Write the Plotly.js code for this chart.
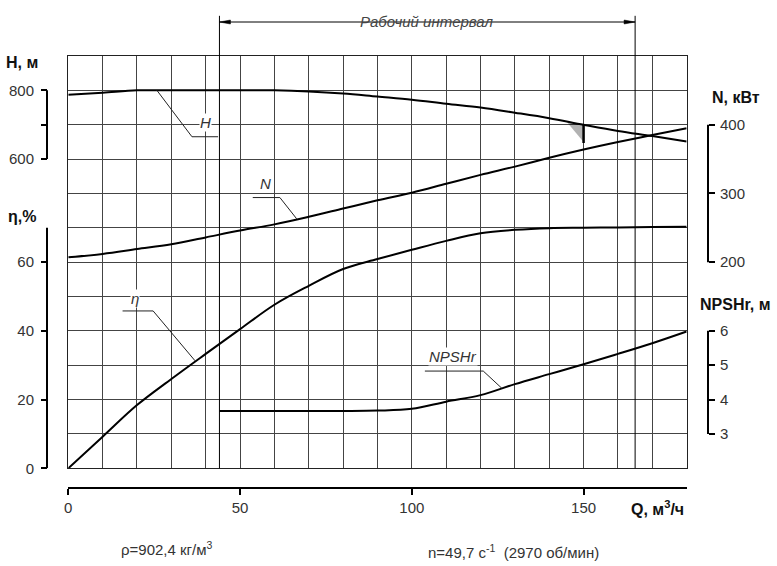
<!DOCTYPE html>
<html>
<head>
<meta charset="utf-8">
<script src="https://cdn.plot.ly/plotly-3.0.1.min.js"></script>
<style>
  html, body { margin: 0; padding: 0; background: #fff; }
  #chart { width: 777px; height: 566px; }
</style>
</head>
<body>
<div id="chart"></div>
<script>
// pump curves
const flow = [0, 10, 20, 30, 40, 50, 60, 70, 80, 90, 100, 110, 120, 130, 140, 150, 160, 170, 180];
const head = [787, 793, 800, 800, 800, 800, 800, 797, 791, 782, 773, 761, 750, 735, 719, 700, 682, 667, 651];
const power = [207, 212, 219, 226, 236, 246, 255, 266, 278, 290, 301, 314, 327, 339, 352, 364, 375, 385, 395];
const efficiency = [0, 9.2, 18.4, 26, 33.3, 40.5, 47.6, 53.1, 58, 60.9, 63.6, 66.2, 68.4, 69.4, 69.9, 70, 70.1, 70.2, 70.3];

const npshFlow = [44, 50, 60, 70, 80, 90, 100, 110, 120, 130, 140, 150, 160, 170, 180];
const npsh = [3.67, 3.67, 3.67, 3.67, 3.67, 3.68, 3.73, 3.94, 4.13, 4.45, 4.74, 5.03, 5.33, 5.64, 5.98];

const workRange = [44, 165];
const bepFlow = 150;

const qTicks = [0, 50, 100, 150];
const etaTicks = [0, 20, 40, 60];
const etaLineTop = 70;
const headTicks = [600, 800];
const headMinor = [700];
const powerTicks = [200, 300, 400];
const npshTicks = [3, 4, 5, 6];

const font = 'Liberation Sans, Arial, sans-serif';
const ink = '#333';

function curve(x, y, axis) {
  return {
    x: x,
    y: y,
    yaxis: axis,
    mode: 'lines',
    line: { color: '#000', width: 2, shape: 'spline', smoothing: 1 },
    hoverinfo: 'none',
    showlegend: false,
  };
}

const traces = [
  curve(flow, efficiency, 'y'),
  curve(flow, head, 'y2'),
  curve(flow, power, 'y3'),
  curve(npshFlow, npsh, 'y4'),
];

function sideAxis(range, ticks, side) {
  return {
    range: range,
    tickvals: ticks,
    anchor: 'free',
    position: side === 'left' ? 0 : 1,
    side: side,
    overlaying: 'y',
    showgrid: false,
    zeroline: false,
    showline: false,
    ticks: 'outside',
    ticklen: 6,
    tickwidth: 2,
    tickcolor: '#000',
    ticklabelstandoff: side === 'left' ? 4 : 2,
    tickfont: { family: font, size: 15, color: ink },
  };
}

const yEta = sideAxis([0, 120], etaTicks, 'left');
delete yEta.overlaying;
yEta.domain = [0.0456, 1];

const yHead = sideAxis([-300, 900], headTicks, 'left');
yHead.minor = { tickvals: headMinor, ticks: 'outside', ticklen: 6, tickwidth: 2, tickcolor: '#000', showgrid: false };

// short axis spines, from first to last tick
function spine(ref, x, y0, y1) {
  return {
    type: 'line', xref: 'paper', yref: ref,
    x0: x, x1: x, y0: y0, y1: y1,
    line: { color: '#000', width: 2 },
  };
}

function leader(ref, pts) {
  return {
    type: 'path', xref: 'x', yref: ref,
    path: 'M' + pts.map((p) => p[0] + ',' + p[1]).join(' L'),
    line: { color: '#222', width: 1 },
  };
}

function arrowHead(q, dir) {
  return {
    type: 'path', xref: 'x', yref: 'paper',
    xsizemode: 'pixel', ysizemode: 'pixel',
    xanchor: q, yanchor: 1.0787,
    path: 'M0,0 L' + (11 * dir) + ',2 L' + (11 * dir) + ',-2 Z',
    fillcolor: '#000',
    line: { color: '#000', width: 0.5 },
  };
}

const bepHead = head[flow.indexOf(bepFlow)];

const shapes = [
  spine('y', 0, etaTicks[0], etaLineTop),
  spine('y2', 0, headTicks[0], headTicks[headTicks.length - 1]),
  spine('y3', 1, powerTicks[0], powerTicks[powerTicks.length - 1]),
  spine('y4', 1, npshTicks[0], npshTicks[npshTicks.length - 1]),
  // working interval
  { type: 'line', xref: 'x', yref: 'paper', x0: workRange[0], x1: workRange[0], y0: 0.0456, y1: 1.093, line: { color: '#000', width: 1 } },
  { type: 'line', xref: 'x', yref: 'paper', x0: workRange[1], x1: workRange[1], y0: 0.0456, y1: 1.093, line: { color: '#000', width: 1 } },
  { type: 'line', xref: 'x', yref: 'paper', x0: workRange[0], x1: workRange[1], y0: 1.0787, y1: 1.0787, line: { color: '#000', width: 1 } },
  arrowHead(workRange[0], 1),
  arrowHead(workRange[1], -1),
  // best efficiency point mark
  { type: 'path', xref: 'x', yref: 'y2', path: 'M145,709 L150,' + bepHead + ' L150,' + (bepHead - 50) + ' Z', fillcolor: 'rgba(0,0,0,0.3)', line: { width: 0 } },
  { type: 'line', xref: 'x', yref: 'y2', x0: bepFlow, x1: bepFlow, y0: bepHead, y1: bepHead - 53, line: { color: '#000', width: 2.5 } },
  // label leaders
  leader('y2', [[25.8, 800], [36.0, 665], [43.6, 665]]),
  leader('y3', [[53.7, 294], [61.6, 294], [66.5, 263]]),
  leader('y', [[15.8, 45.8], [24.7, 45.8], [36.9, 31.3]]),
  leader('y4', [[103.8, 4.83], [120.8, 4.83], [126.2, 4.33]]),
];

function label(text, x, y, ref) {
  return {
    text: text, x: x, y: y, xref: 'x', yref: ref,
    showarrow: false, bgcolor: '#fff', borderpad: 0,
    font: { family: font, size: 15, color: ink, style: 'italic' },
  };
}

function note(text, x, y, bold, size) {
  return {
    text: bold ? '<b>' + text + '</b>' : text,
    x: x, y: y, xref: 'paper', yref: 'paper',
    xanchor: 'center', yanchor: 'middle', showarrow: false,
    font: { family: font, size: size || 15, color: bold ? '#111' : ink },
  };
}

const annotations = [
  label('H', 39.8, 706, 'y2'),
  label('N', 57.3, 315, 'y3'),
  label('η', 19.4, 49.3, 'y'),
  label('NPSHr', 112.1, 5.25, 'y4'),
  {
    text: 'Рабочий интервал', x: (workRange[0] + workRange[1]) / 2, y: 1.104,
    xref: 'x', yref: 'paper', showarrow: false,
    font: { family: font, size: 15, color: '#444', style: 'italic' },
  },
  note('H, м', -0.038, 0.984, true, 16),
  note('η,%', -0.038, 0.628, true, 16),
  note('N, кВт', 1.043, 0.903, true, 16),
  note('NPSHr, м', 1.041, 0.424, true, 16),
  note('Q, м<sup>3</sup>/ч', 0.923, -0.047, true, 16),
  note('ρ=902,4 кг/м<sup>3</sup>', 0.182, -0.139, false, 15),
  note('n=49,7 с<sup>-1</sup>  (2970 об/мин)', 0.706, -0.146, false, 15),
];

const layout = {
  width: 777,
  height: 566,
  margin: { l: 47, r: 69, t: 56, b: 78, pad: 0 },
  paper_bgcolor: '#fff',
  plot_bgcolor: '#fff',
  showlegend: false,
  xaxis: {
    domain: [0.0322, 0.9677],
    range: [0, 180],
    dtick: 10,
    anchor: 'y5',
    showgrid: true,
    gridcolor: '#444',
    gridwidth: 1,
    zeroline: false,
    showline: true,
    mirror: true,
    linecolor: '#222',
    showticklabels: false,
    ticks: '',
  },
  xaxis2: {
    overlaying: 'x',
    range: [0, 180],
    tickvals: qTicks,
    anchor: 'free',
    position: 0,
    showgrid: false,
    zeroline: false,
    showline: true,
    linecolor: '#000',
    linewidth: 2,
    ticks: 'outside',
    ticklen: 6,
    tickwidth: 2,
    tickcolor: '#000',
    tickfont: { family: font, size: 15, color: ink },
  },
  yaxis: yEta,
  yaxis2: yHead,
  yaxis3: sideAxis([-100, 500], powerTicks, 'right'),
  yaxis4: sideAxis([2, 14], npshTicks, 'right'),
  yaxis5: {
    overlaying: 'y',
    range: [0, 120],
    dtick: 10,
    anchor: 'x',
    showgrid: true,
    gridcolor: '#444',
    gridwidth: 1,
    zeroline: false,
    showline: true,
    mirror: true,
    linecolor: '#222',
    showticklabels: false,
    ticks: '',
  },
  shapes: shapes,
  annotations: annotations,
};

// invisible trace so the label axis gets drawn
traces.push({ x: [0], y: [0], xaxis: 'x2', yaxis: 'y5', mode: 'markers', marker: { opacity: 0 }, hoverinfo: 'none', showlegend: false });

Plotly.newPlot('chart', traces, layout, { staticPlot: true, displayModeBar: false });
</script>
</body>
</html>
